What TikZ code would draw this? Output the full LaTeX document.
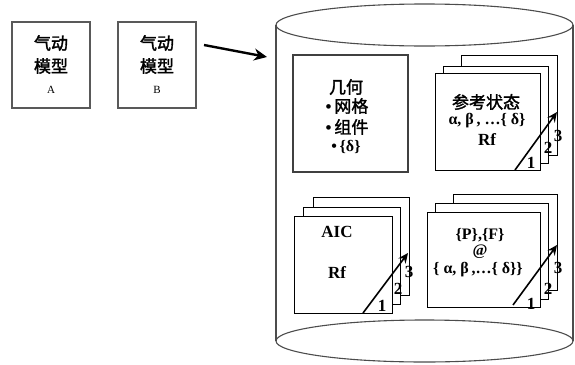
\documentclass[tikz,border=0pt]{standalone}
\usepackage{fontspec}
\setmainfont{Liberation Serif}
\newfontfamily\cjk{Noto Sans CJK SC}[FakeBold=1.8]
\usetikzlibrary{arrows.meta}
\tikzset{
  model/.style={draw=black!65, line width=1.8pt, fill=white, minimum width=78pt, minimum height=86pt, inner sep=0pt},
  geo/.style={draw=black!75, line width=1.4pt, fill=white, minimum width=115pt, minimum height=117pt, inner sep=0pt},
  card/.style={draw=black, line width=0.9pt, fill=white},
  zh/.style={font=\cjk\fontsize{17}{17}\selectfont, inner sep=0pt},
  lat/.style={font=\bfseries\fontsize{17}{17}\selectfont, inner sep=0pt},
  latm/.style={font=\bfseries\fontsize{16}{16}\selectfont, inner sep=0pt},
  lab/.style={font=\fontsize{11}{11}\selectfont, inner sep=0pt},
  num/.style={font=\bfseries\fontsize{17}{17}\selectfont, inner sep=0pt},
  steparrow/.style={line width=1.6pt, -{Stealth[length=10pt,width=9pt]}},
  cyl/.style={draw=black!70, line width=1.1pt}
}
\newcommand{\bul}{{\rmfamily\bfseries •}\,}
\begin{document}
\begin{tikzpicture}[x=1pt,y=-1pt]
\useasboundingbox (0,0) rectangle (575,364);
% cylinder
\draw[cyl] (276,25) -- (276,341);
\draw[cyl] (573,25) -- (573,341);
\draw[cyl] (424.5,25) ellipse [x radius=148.5pt, y radius=21pt];
\draw[cyl] (424.5,341) ellipse [x radius=148.5pt, y radius=21pt];
% model boxes
\node[model] (A) at (51,65) {};
\node[model] (B) at (157,65) {};
\node[zh] (a1) at (51,43) {气动};
\node[zh] (a2) at (51,66) {模型};
\node[lab] (a3) at (51,90) {A};
\node[zh] (b1) at (157,43) {气动};
\node[zh] (b2) at (157,66) {模型};
\node[lab] (b3) at (157,90) {B};
\coordinate (arrS) at (204,45);
\coordinate (arrE) at (267,57);
\draw[line width=2.4pt, -{Stealth[length=13pt,width=12pt]}] (arrS) -- (arrE);
% geometry
\node[geo] (G) at (350.5,113.5) {};
\node[zh] (g1) at (346,87) {几何};
\node[zh] (g2) at (347,106) {\bul 网格};
\node[zh] (g3) at (347,127) {\bul 组件};
\node[latm] (g4) at (346,147) {\bul\{δ\}};
% stack 1
\draw[card] (461,55) rectangle (557,155);
\draw[card] (443,66) rectangle (548,163);
\draw[card] (435,73) rectangle (540,170);
\node[zh] (r1) at (486,102) {参考状态};
\node[latm] (r2) at (487,121) {α, β\,, …\{ δ\}};
\node[lat] (r3) at (487,140) {Rf};
\coordinate (s1a) at (515,170);
\coordinate (s1b) at (557,112);
\draw[steparrow] (s1a) -- (s1b);
\node[num] (n11) at (531,163) {1};
\node[num] (n12) at (548,148) {2};
\node[num] (n13) at (558,136) {3};
% stack 2
\draw[card] (313,197) rectangle (409,295);
\draw[card] (303,207) rectangle (400,304);
\draw[card] (294,216) rectangle (392,313);
\node[lat] (c1) at (337,232) {AIC};
\node[lat] (c2) at (337,273) {Rf};
\coordinate (s2a) at (363,313);
\coordinate (s2b) at (408,253);
\draw[steparrow] (s2a) -- (s2b);
\node[num] (n21) at (382,306) {1};
\node[num] (n22) at (398,289) {2};
\node[num] (n23) at (409,272) {3};
% stack 3
\draw[card] (453,194) rectangle (557,290);
\draw[card] (435,203) rectangle (548,299);
\draw[card] (427,212) rectangle (540,307);
\node[latm] (p1) at (480,235) {\{P\},\{F\}};
\node[latm] (p2) at (480,252) {@};
\node[latm] (p3) at (478,270) {\{ α, β\,,…\{ δ\}\}};
\coordinate (s3a) at (513,305);
\coordinate (s3b) at (557,245);
\draw[steparrow] (s3a) -- (s3b);
\node[num] (n31) at (531,304) {1};
\node[num] (n32) at (548,289) {2};
\node[num] (n33) at (558,268) {3};
\end{tikzpicture}
\end{document}
